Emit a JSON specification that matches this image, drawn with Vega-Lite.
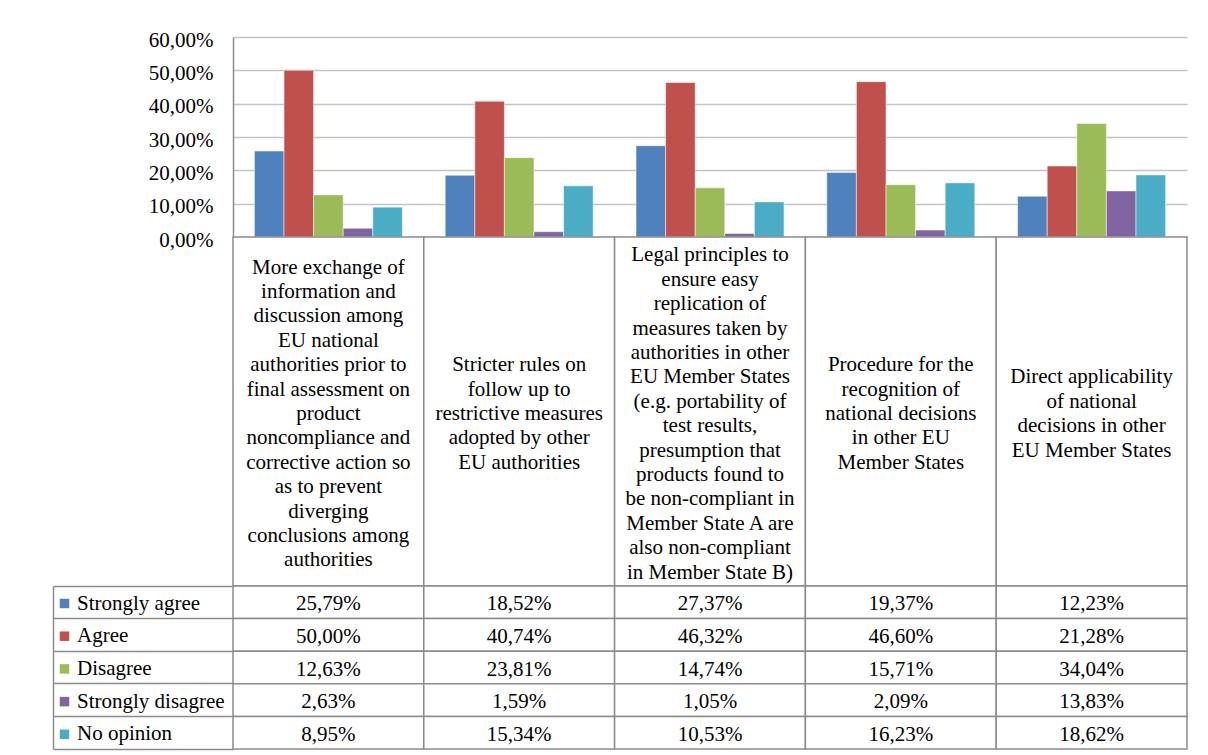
{
  "$schema": "https://vega.github.io/schema/vega-lite/v6.json",
  "padding": {"left": 52, "top": 29, "right": 20, "bottom": 4},
  "autosize": {"type": "pad"},
  "background": "white",
  "bounds": "flush",
  "spacing": 0,
  "config": {
    "locale": {"number": {"decimal": ",", "thousands": ".", "grouping": [3], "currency": ["", " €"]}},
    "view": {"stroke": null},
    "font": "'Liberation Serif', 'DejaVu Serif', serif"
  },
  "datasets": {
    "main": [
      {"category": "More exchange of\ninformation and\ndiscussion among\nEU national\nauthorities prior to\nfinal assessment on\nproduct\nnoncompliance and\ncorrective action so\nas to prevent\ndiverging\nconclusions among\nauthorities", "series": "Strongly agree", "value": 0.2579},
      {"category": "More exchange of\ninformation and\ndiscussion among\nEU national\nauthorities prior to\nfinal assessment on\nproduct\nnoncompliance and\ncorrective action so\nas to prevent\ndiverging\nconclusions among\nauthorities", "series": "Agree", "value": 0.5000},
      {"category": "More exchange of\ninformation and\ndiscussion among\nEU national\nauthorities prior to\nfinal assessment on\nproduct\nnoncompliance and\ncorrective action so\nas to prevent\ndiverging\nconclusions among\nauthorities", "series": "Disagree", "value": 0.1263},
      {"category": "More exchange of\ninformation and\ndiscussion among\nEU national\nauthorities prior to\nfinal assessment on\nproduct\nnoncompliance and\ncorrective action so\nas to prevent\ndiverging\nconclusions among\nauthorities", "series": "Strongly disagree", "value": 0.0263},
      {"category": "More exchange of\ninformation and\ndiscussion among\nEU national\nauthorities prior to\nfinal assessment on\nproduct\nnoncompliance and\ncorrective action so\nas to prevent\ndiverging\nconclusions among\nauthorities", "series": "No opinion", "value": 0.0895},
      {"category": "Stricter rules on\nfollow up to\nrestrictive measures\nadopted by other\nEU authorities", "series": "Strongly agree", "value": 0.1852},
      {"category": "Stricter rules on\nfollow up to\nrestrictive measures\nadopted by other\nEU authorities", "series": "Agree", "value": 0.4074},
      {"category": "Stricter rules on\nfollow up to\nrestrictive measures\nadopted by other\nEU authorities", "series": "Disagree", "value": 0.2381},
      {"category": "Stricter rules on\nfollow up to\nrestrictive measures\nadopted by other\nEU authorities", "series": "Strongly disagree", "value": 0.0159},
      {"category": "Stricter rules on\nfollow up to\nrestrictive measures\nadopted by other\nEU authorities", "series": "No opinion", "value": 0.1534},
      {"category": "Legal principles to\nensure easy\nreplication of\nmeasures taken by\nauthorities in other\nEU Member States\n(e.g. portability of\ntest results,\npresumption that\nproducts found to\nbe non-compliant in\nMember State A are\nalso non-compliant\nin Member State B)", "series": "Strongly agree", "value": 0.2737},
      {"category": "Legal principles to\nensure easy\nreplication of\nmeasures taken by\nauthorities in other\nEU Member States\n(e.g. portability of\ntest results,\npresumption that\nproducts found to\nbe non-compliant in\nMember State A are\nalso non-compliant\nin Member State B)", "series": "Agree", "value": 0.4632},
      {"category": "Legal principles to\nensure easy\nreplication of\nmeasures taken by\nauthorities in other\nEU Member States\n(e.g. portability of\ntest results,\npresumption that\nproducts found to\nbe non-compliant in\nMember State A are\nalso non-compliant\nin Member State B)", "series": "Disagree", "value": 0.1474},
      {"category": "Legal principles to\nensure easy\nreplication of\nmeasures taken by\nauthorities in other\nEU Member States\n(e.g. portability of\ntest results,\npresumption that\nproducts found to\nbe non-compliant in\nMember State A are\nalso non-compliant\nin Member State B)", "series": "Strongly disagree", "value": 0.0105},
      {"category": "Legal principles to\nensure easy\nreplication of\nmeasures taken by\nauthorities in other\nEU Member States\n(e.g. portability of\ntest results,\npresumption that\nproducts found to\nbe non-compliant in\nMember State A are\nalso non-compliant\nin Member State B)", "series": "No opinion", "value": 0.1053},
      {"category": "Procedure for the\nrecognition of\nnational decisions\nin other EU\nMember States", "series": "Strongly agree", "value": 0.1937},
      {"category": "Procedure for the\nrecognition of\nnational decisions\nin other EU\nMember States", "series": "Agree", "value": 0.4660},
      {"category": "Procedure for the\nrecognition of\nnational decisions\nin other EU\nMember States", "series": "Disagree", "value": 0.1571},
      {"category": "Procedure for the\nrecognition of\nnational decisions\nin other EU\nMember States", "series": "Strongly disagree", "value": 0.0209},
      {"category": "Procedure for the\nrecognition of\nnational decisions\nin other EU\nMember States", "series": "No opinion", "value": 0.1623},
      {"category": "Direct applicability\nof national\ndecisions in other\nEU Member States", "series": "Strongly agree", "value": 0.1223},
      {"category": "Direct applicability\nof national\ndecisions in other\nEU Member States", "series": "Agree", "value": 0.2128},
      {"category": "Direct applicability\nof national\ndecisions in other\nEU Member States", "series": "Disagree", "value": 0.3404},
      {"category": "Direct applicability\nof national\ndecisions in other\nEU Member States", "series": "Strongly disagree", "value": 0.1383},
      {"category": "Direct applicability\nof national\ndecisions in other\nEU Member States", "series": "No opinion", "value": 0.1862}
    ]
  },
  "vconcat": [
    {
      "width": 954,
      "height": 200,
      "data": {"name": "main"},
      "mark": {"type": "bar", "stroke": "#ffffff", "strokeOpacity": 0.5, "strokeWidth": 1},
      "encoding": {
        "x": {"field": "category", "type": "nominal", "sort": null, "axis": null, "scale": {"paddingInner": 0, "paddingOuter": 0}},
        "xOffset": {"field": "series", "type": "nominal", "sort": null, "scale": {"paddingInner": 0, "paddingOuter": 0.723}},
        "y": {
          "field": "value", "type": "quantitative",
          "scale": {"domain": [0, 0.6]},
          "axis": {
            "title": null, "values": [0, 0.1, 0.2, 0.3, 0.4, 0.5, 0.6], "format": ".2%",
            "grid": true, "gridColor": "#c4c4c4", "gridWidth": 1.5,
            "domain": true, "domainColor": "#8c8c8c", "domainWidth": 1.5,
            "ticks": false, "labelPadding": 20, "labelOffset": 3,
            "labelFont": "'Liberation Serif', 'DejaVu Serif', serif", "labelFontSize": 21, "labelColor": "#000000"
          }
        },
        "color": {
          "field": "series", "type": "nominal", "sort": null,
          "scale": {
            "domain": ["Strongly agree", "Agree", "Disagree", "Strongly disagree", "No opinion"],
            "range": ["#4F81BD", "#C0504D", "#9BBB59", "#8064A2", "#4BACC6"]
          },
          "legend": {
            "orient": "none", "legendX": -179, "legendY": 556, "title": null,
            "symbolType": "square", "symbolSize": 90, "symbolStrokeWidth": 0,
            "labelFont": "'Liberation Serif', 'DejaVu Serif', serif", "labelFontSize": 21, "labelColor": "#000000",
            "labelOffset": 2, "rowPadding": 10.7, "padding": 0, "symbolOffset": 0, "labelLimit": 300
          }
        }
      }
    },
    {
      "width": 954,
      "height": 349,
      "data": {"name": "main"},
      "transform": [{"filter": "datum.series === 'Strongly agree'"}],
      "encoding": {
        "x": {"field": "category", "type": "nominal", "sort": null, "axis": null, "scale": {"paddingInner": 0, "paddingOuter": 0}}
      },
      "layer": [
        {"mark": {"type": "rect", "fill": "#ffffff", "stroke": "#8c8c8c", "strokeWidth": 1.5}},
        {
          "mark": {
            "type": "text", "lineBreak": "\n", "lineHeight": 24.4, "fontSize": 21,
            "font": "'Liberation Serif', 'DejaVu Serif', serif", "color": "#000000", "align": "center", "baseline": "middle",
            "dy": {"expr": "2.5 - (length(split(datum.category, '\\n')) - 1) * 12.2"}
          },
          "encoding": {"text": {"field": "category"}}
        }
      ]
    },
    {
      "width": 954,
      "height": 163,
      "data": {"name": "main"},
      "encoding": {
        "x": {"field": "category", "type": "nominal", "sort": null, "axis": null, "scale": {"paddingInner": 0, "paddingOuter": 0}},
        "y": {
          "field": "series", "type": "nominal", "sort": null,
          "scale": {"paddingInner": 0, "paddingOuter": 0},
          "axis": {
            "title": null, "labels": false, "offset": 180,
            "domain": true, "domainColor": "#8c8c8c", "domainWidth": 1.5,
            "ticks": true, "tickSize": -180, "tickColor": "#8c8c8c", "tickWidth": 1.5,
            "bandPosition": 1, "tickExtra": true, "grid": false
          }
        }
      },
      "layer": [
        {"mark": {"type": "rect", "fill": "#ffffff", "stroke": "#8c8c8c", "strokeWidth": 1.5}},
        {
          "mark": {"type": "text", "fontSize": 21, "font": "'Liberation Serif', 'DejaVu Serif', serif", "color": "#000000", "align": "center", "baseline": "middle", "dy": 2},
          "encoding": {"text": {"field": "value", "type": "quantitative", "format": ".2%"}}
        }
      ]
    }
  ]
}
